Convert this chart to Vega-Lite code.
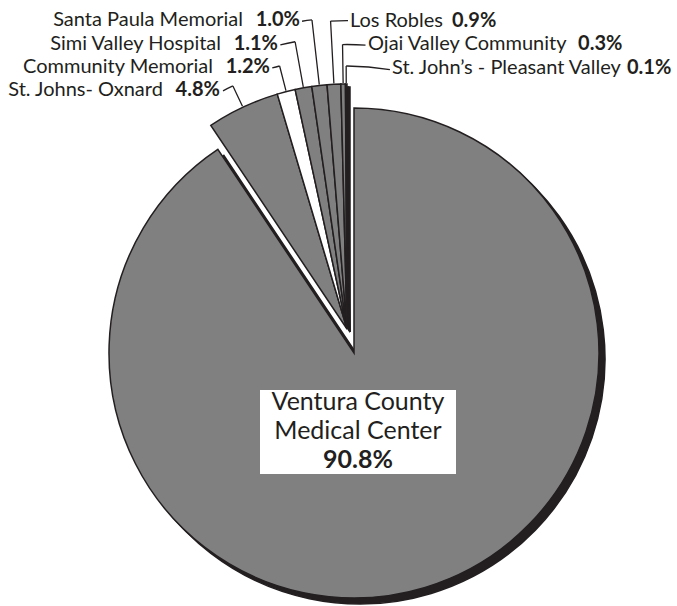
{
  "$schema": "https://vega.github.io/schema/vega-lite/v6.json",
  "width": 646,
  "height": 490,
  "autosize": {"type": "none"},
  "padding": {"left": 31, "top": 108, "right": 0, "bottom": 8},
  "background": "#ffffff",
  "config": {"view": {"stroke": null}, "text": {"font": "Lato", "fill": "#231f20"}},
  "data": {
    "values": [
      {"name": "Ventura County\nMedical Center", "share": 0.908},
      {"name": "St. Johns- Oxnard", "share": 0.048},
      {"name": "Community Memorial", "share": 0.012},
      {"name": "Simi Valley Hospital", "share": 0.011},
      {"name": "Santa Paula Memorial", "share": 0.010},
      {"name": "Los Robles", "share": 0.009},
      {"name": "Ojai Valley Community", "share": 0.003},
      {"name": "St. John’s - Pleasant Valley", "share": 0.001}
    ]
  },
  "transform": [
    {"stack": "share", "groupby": [], "as": ["t0", "t1"]},
    {"fold": ["t0", "t1"], "as": ["edge", "edgeval"]},
    {"joinaggregate": [{"op": "mean", "field": "edgeval", "as": "tmid"}], "groupby": ["name"]},
    {"filter": {"field": "edge", "equal": "t0"}}
  ],
  "layer": [
    {
      "transform": [{"filter": {"field": "share", "gt": 0.5}}],
      "mark": {"type": "arc", "fill": "#231f20", "stroke": "#231f20", "strokeWidth": 1.5, "xOffset": 6, "yOffset": 6},
      "encoding": {
        "theta": {"field": "t0", "type": "quantitative", "stack": null, "scale": {"domain": [0, 1.002]}},
        "theta2": {"field": "t1"}
      }
    },
    {
      "transform": [{"filter": {"field": "share", "lt": 0.5}}],
      "mark": {"type": "arc", "fill": "#231f20", "stroke": "#231f20", "strokeWidth": 1.5, "xOffset": -4, "yOffset": -21},
      "encoding": {
        "theta": {"field": "t0", "type": "quantitative", "stack": null, "scale": {"domain": [0, 1.002]}},
        "theta2": {"field": "t1"}
      }
    },
    {
      "transform": [{"filter": {"field": "share", "gt": 0.5}}],
      "mark": {"type": "arc", "fill": "#808080", "stroke": "#231f20", "strokeWidth": 1.5},
      "encoding": {
        "theta": {"field": "t0", "type": "quantitative", "stack": null, "scale": {"domain": [0, 1.002]}},
        "theta2": {"field": "t1"}
      }
    },
    {
      "transform": [{"filter": {"field": "share", "lt": 0.5}}],
      "mark": {"type": "arc", "stroke": "#231f20", "strokeWidth": 1.5, "xOffset": -7, "yOffset": -24},
      "encoding": {
        "theta": {"field": "t0", "type": "quantitative", "stack": null, "scale": {"domain": [0, 1.002]}},
        "theta2": {"field": "t1"},
        "fill": {"condition": {"test": "datum.name === 'Community Memorial'", "value": "#ffffff"}, "value": "#808080"}
      }
    },
    {
      "transform": [{"filter": {"field": "share", "gt": 0.5}}],
      "mark": {"type": "point", "shape": "M-1,-0.4286H1V0.4286H-1Z", "size": 38416, "filled": true, "fill": "#ffffff", "opacity": 1, "strokeWidth": 0, "xOffset": 4, "yOffset": 79},
      "encoding": {}
    },
    {
      "transform": [{"filter": {"field": "share", "gt": 0.5}}],
      "mark": {"type": "text", "fontSize": 25, "lineHeight": 29, "lineBreak": "\n", "align": "center", "baseline": "alphabetic", "dx": 4, "dy": 57},
      "encoding": {"text": {"field": "name"}}
    },
    {
      "transform": [{"filter": {"field": "share", "gt": 0.5}}],
      "mark": {"type": "text", "fontSize": 25, "fontWeight": "bold", "align": "center", "baseline": "alphabetic", "dx": 4, "dy": 115},
      "encoding": {"text": {"field": "share", "type": "quantitative", "format": ".1%"}}
    },
    {
      "transform": [{"filter": {"field": "name", "equal": "St. Johns- Oxnard"}}],
      "encoding": {"theta": {"field": "tmid", "type": "quantitative", "stack": null, "scale": {"domain": [0, 1.002]}}},
      "layer": [
        {"mark": {"type": "arc", "filled": false, "stroke": "#231f20", "strokeWidth": 1.3, "innerRadius": 246, "outerRadius": 268.5, "xOffset": -7, "yOffset": -24}, "encoding": {"theta2": {"field": "tmid"}}},
        {"mark": {"type": "arc", "filled": false, "stroke": "#231f20", "strokeWidth": 1.3, "innerRadius": 268.5, "outerRadius": 268.5, "theta2Offset": -0.041, "xOffset": -7, "yOffset": -24}, "encoding": {"theta2": {"field": "tmid"}}},
        {"mark": {"type": "text", "radius": 268.5, "xOffset": -7, "yOffset": -24, "dx": -13, "dy": 10.5, "align": "right", "baseline": "alphabetic", "fontSize": 20, "fontWeight": "bold"}, "encoding": {"text": {"field": "share", "type": "quantitative", "format": ".1%"}}},
        {"mark": {"type": "text", "radius": 268.5, "xOffset": -7, "yOffset": -24, "dx": -70, "dy": 10.5, "align": "right", "baseline": "alphabetic", "fontSize": 20}, "encoding": {"text": {"field": "name"}}}
      ]
    },
    {
      "transform": [{"filter": {"field": "name", "equal": "Community Memorial"}}],
      "encoding": {"theta": {"field": "tmid", "type": "quantitative", "stack": null, "scale": {"domain": [0, 1.002]}}},
      "layer": [
        {"mark": {"type": "arc", "filled": false, "stroke": "#231f20", "strokeWidth": 1.3, "innerRadius": 246, "outerRadius": 271.5, "xOffset": -7, "yOffset": -24}, "encoding": {"theta2": {"field": "tmid"}}},
        {"mark": {"type": "arc", "filled": false, "stroke": "#231f20", "strokeWidth": 1.3, "innerRadius": 271.5, "outerRadius": 271.5, "theta2Offset": -0.028, "xOffset": -7, "yOffset": -24}, "encoding": {"theta2": {"field": "tmid"}}},
        {"mark": {"type": "text", "radius": 271.5, "xOffset": -7, "yOffset": -24, "dx": -9.6, "dy": 7.5, "align": "right", "baseline": "alphabetic", "fontSize": 20, "fontWeight": "bold"}, "encoding": {"text": {"field": "share", "type": "quantitative", "format": ".1%"}}},
        {"mark": {"type": "text", "radius": 271.5, "xOffset": -7, "yOffset": -24, "dx": -66.6, "dy": 7.5, "align": "right", "baseline": "alphabetic", "fontSize": 20}, "encoding": {"text": {"field": "name"}}}
      ]
    },
    {
      "transform": [{"filter": {"field": "name", "equal": "Simi Valley Hospital"}}],
      "encoding": {"theta": {"field": "tmid", "type": "quantitative", "stack": null, "scale": {"domain": [0, 1.002]}}},
      "layer": [
        {"mark": {"type": "arc", "filled": false, "stroke": "#231f20", "strokeWidth": 1.3, "innerRadius": 246, "outerRadius": 291.9, "xOffset": -7, "yOffset": -24}, "encoding": {"theta2": {"field": "tmid"}}},
        {"mark": {"type": "arc", "filled": false, "stroke": "#231f20", "strokeWidth": 1.3, "innerRadius": 291.9, "outerRadius": 291.9, "theta2Offset": -0.0517, "xOffset": -7, "yOffset": -24}, "encoding": {"theta2": {"field": "tmid"}}},
        {"mark": {"type": "text", "radius": 291.9, "xOffset": -7, "yOffset": -24, "dx": -17.1, "dy": 8.3, "align": "right", "baseline": "alphabetic", "fontSize": 20, "fontWeight": "bold"}, "encoding": {"text": {"field": "share", "type": "quantitative", "format": ".1%"}}},
        {"mark": {"type": "text", "radius": 291.9, "xOffset": -7, "yOffset": -24, "dx": -74.1, "dy": 8.3, "align": "right", "baseline": "alphabetic", "fontSize": 20}, "encoding": {"text": {"field": "name"}}}
      ]
    },
    {
      "transform": [{"filter": {"field": "name", "equal": "Santa Paula Memorial"}}],
      "encoding": {"theta": {"field": "tmid", "type": "quantitative", "stack": null, "scale": {"domain": [0, 1.002]}}},
      "layer": [
        {"mark": {"type": "arc", "filled": false, "stroke": "#231f20", "strokeWidth": 1.3, "innerRadius": 246, "outerRadius": 311, "xOffset": -7, "yOffset": -24}, "encoding": {"theta2": {"field": "tmid"}}},
        {"mark": {"type": "arc", "filled": false, "stroke": "#231f20", "strokeWidth": 1.3, "innerRadius": 311, "outerRadius": 311, "theta2Offset": -0.0322, "xOffset": -7, "yOffset": -24}, "encoding": {"theta2": {"field": "tmid"}}},
        {"mark": {"type": "text", "radius": 311, "xOffset": -7, "yOffset": -24, "dx": -12, "dy": 6.5, "align": "right", "baseline": "alphabetic", "fontSize": 20, "fontWeight": "bold"}, "encoding": {"text": {"field": "share", "type": "quantitative", "format": ".1%"}}},
        {"mark": {"type": "text", "radius": 311, "xOffset": -7, "yOffset": -24, "dx": -69, "dy": 6.5, "align": "right", "baseline": "alphabetic", "fontSize": 20}, "encoding": {"text": {"field": "name"}}}
      ]
    },
    {
      "transform": [{"filter": {"field": "name", "equal": "Los Robles"}}],
      "encoding": {"theta": {"field": "tmid", "type": "quantitative", "stack": null, "scale": {"domain": [0, 1.002]}}},
      "layer": [
        {"mark": {"type": "arc", "filled": false, "stroke": "#231f20", "strokeWidth": 1.3, "innerRadius": 246, "outerRadius": 308.4, "xOffset": -7, "yOffset": -24}, "encoding": {"theta2": {"field": "tmid"}}},
        {"mark": {"type": "arc", "filled": false, "stroke": "#231f20", "strokeWidth": 1.3, "innerRadius": 308.4, "outerRadius": 308.4, "theta2Offset": 0.0565, "xOffset": -7, "yOffset": -24}, "encoding": {"theta2": {"field": "tmid"}}},
        {"mark": {"type": "text", "radius": 308.4, "xOffset": -7, "yOffset": -24, "dx": 19.4, "dy": 5.5, "align": "left", "baseline": "alphabetic", "fontSize": 20}, "encoding": {"text": {"field": "name"}}},
        {"mark": {"type": "text", "radius": 308.4, "xOffset": -7, "yOffset": -24, "dx": 121.4, "dy": 5.5, "align": "left", "baseline": "alphabetic", "fontSize": 20, "fontWeight": "bold"}, "encoding": {"text": {"field": "share", "type": "quantitative", "format": ".1%"}}}
      ]
    },
    {
      "transform": [{"filter": {"field": "name", "equal": "Ojai Valley Community"}}],
      "encoding": {"theta": {"field": "tmid", "type": "quantitative", "stack": null, "scale": {"domain": [0, 1.002]}}},
      "layer": [
        {"mark": {"type": "arc", "filled": false, "stroke": "#231f20", "strokeWidth": 1.3, "innerRadius": 246, "outerRadius": 284.5, "xOffset": -7, "yOffset": -24}, "encoding": {"theta2": {"field": "tmid"}}},
        {"mark": {"type": "arc", "filled": false, "stroke": "#231f20", "strokeWidth": 1.3, "innerRadius": 284.5, "outerRadius": 284.5, "theta2Offset": 0.0808, "xOffset": -7, "yOffset": -24}, "encoding": {"theta2": {"field": "tmid"}}},
        {"mark": {"type": "text", "radius": 284.5, "xOffset": -7, "yOffset": -24, "dx": 25.5, "dy": 5.5, "align": "left", "baseline": "alphabetic", "fontSize": 20}, "encoding": {"text": {"field": "name"}}},
        {"mark": {"type": "text", "radius": 284.5, "xOffset": -7, "yOffset": -24, "dx": 235.5, "dy": 5.5, "align": "left", "baseline": "alphabetic", "fontSize": 20, "fontWeight": "bold"}, "encoding": {"text": {"field": "share", "type": "quantitative", "format": ".1%"}}}
      ]
    },
    {
      "transform": [{"filter": {"field": "name", "equal": "St. John’s - Pleasant Valley"}}],
      "encoding": {"theta": {"field": "tmid", "type": "quantitative", "stack": null, "scale": {"domain": [0, 1.002]}}},
      "layer": [
        {"mark": {"type": "arc", "filled": false, "stroke": "#231f20", "strokeWidth": 1.3, "innerRadius": 246, "outerRadius": 263, "xOffset": -7, "yOffset": -24}, "encoding": {"theta2": {"field": "tmid"}}},
        {"mark": {"type": "arc", "filled": false, "stroke": "#231f20", "strokeWidth": 1.3, "innerRadius": 263, "outerRadius": 263, "theta2Offset": 0.167, "xOffset": -7, "yOffset": -24}, "encoding": {"theta2": {"field": "tmid"}}},
        {"mark": {"type": "text", "radius": 263, "xOffset": -7, "yOffset": -24, "dx": 45.8, "dy": 7.5, "align": "left", "baseline": "alphabetic", "fontSize": 20}, "encoding": {"text": {"field": "name"}}},
        {"mark": {"type": "text", "radius": 263, "xOffset": -7, "yOffset": -24, "dx": 280.8, "dy": 7.5, "align": "left", "baseline": "alphabetic", "fontSize": 20, "fontWeight": "bold"}, "encoding": {"text": {"field": "share", "type": "quantitative", "format": ".1%"}}}
      ]
    }
  ]
}
